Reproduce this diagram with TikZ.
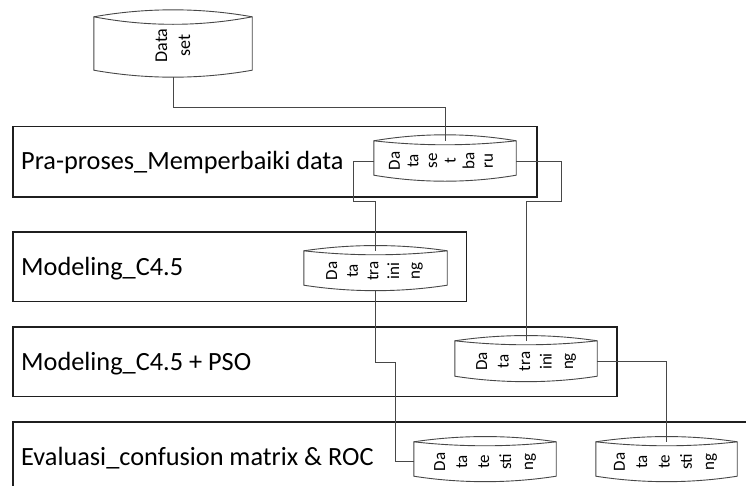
\documentclass[tikz,border=0pt]{standalone}
\usepackage{fontspec}
\setmainfont{Carlito}
\usetikzlibrary{calc}

% outline of a data store: bulged top with a lens, straight sides, bulged bottom
% #1 node name, #2 top bulge, #3 lens depth, #4 bottom bulge
\newcommand\storeoutline[4]{%
  \draw[drumline]
    (#1.north west)
      .. controls ($(#1.north west)!0.33!(#1.north east)+(0,-#2)$)
              and ($(#1.north west)!0.67!(#1.north east)+(0,-#2)$) .. (#1.north east)
    -- (#1.south east)
      .. controls ($(#1.south west)!0.67!(#1.south east)+(0,#4)$)
              and ($(#1.south west)!0.33!(#1.south east)+(0,#4)$) .. (#1.south west)
    -- cycle;
  \draw[drumline, fill=none]
    (#1.north west)
      .. controls ($(#1.north west)!0.33!(#1.north east)+(0,#3)$)
              and ($(#1.north west)!0.67!(#1.north east)+(0,#3)$) .. (#1.north east);
}

\begin{document}
\begin{tikzpicture}[x=1pt, y=-1pt,
  stagebox/.style={draw=black!88, line width=1.6pt, rectangle, inner sep=0pt,
                   anchor=north west},
  stagelabel/.style={anchor=base west, inner sep=0pt,
                     font=\fontsize{26.3}{31}\selectfont},
  drum/.style={rectangle, inner sep=0pt, draw=none},
  drumtext/.style={rotate=90, align=center, inner sep=0pt,
                   font=\fontsize{17}{#1}\selectfont},
  conn/.style={draw=black!72, line width=1pt},
  drumline/.style={draw=black!72, line width=0.9pt, fill=white}
]
\useasboundingbox (0,0) rectangle (746,485);
\clip (0,0) rectangle (746,485);

% stage boxes
\node[stagebox, minimum width=524, minimum height=70.5] (b1) at (12,125.5) {};
\node[stagebox, minimum width=453.5, minimum height=69.5] (b2) at (12,231) {};
\node[stagebox, minimum width=604, minimum height=69.5] (b3) at (12,326) {};
\node[stagebox, minimum width=760, minimum height=120] (b4) at (12,421) {};

\node[stagelabel] (b1t) at (21,169) {Pra-proses\_Memperbaiki data};
\node[stagelabel] (b2t) at (21,275) {Modeling\_C4.5};
\node[stagelabel] (b3t) at (21,370) {Modeling\_C4.5 + PSO};
\node[stagelabel] (b4t) at (21,465) {Evaluasi\_confusion matrix \& ROC};

% data stores
\node[drum, minimum width=158, minimum height=53] (ds) at (173,43.5) {};
\node[drum, minimum width=142, minimum height=34] (dsb) at (445,158) {};
\node[drum, minimum width=143, minimum height=34] (dt1) at (375.5,268) {};
\node[drum, minimum width=142, minimum height=35] (dt2) at (526,358.5) {};
\node[drum, minimum width=142, minimum height=34] (dte1) at (485,459) {};
\node[drum, minimum width=141, minimum height=34] (dte2) at (666.5,459) {};

\storeoutline{ds}{9.3}{10}{9.3}
\storeoutline{dsb}{8}{5.3}{8}
\storeoutline{dt1}{7}{5.3}{7.3}
\storeoutline{dt2}{7}{5.3}{7.3}
\storeoutline{dte1}{7}{5.3}{7.3}
\storeoutline{dte2}{7}{5.3}{7.3}

\node[drumtext=23, font=\fontsize{18}{23}\selectfont] (dst) at ($(ds)+(0,2)$) {Data\\set};
\node[drumtext=18.6] (dsbt) at ($(dsb)+(-4,3)$) {Da\\ta\\se\\t\\ba\\ru};
\node[drumtext=20.7] (dt1t) at ($(dt1)+(-1,3)$) {Da\\ta\\tra\\ini\\ng};
\node[drumtext=21.5] (dt2t) at ($(dt2)+(0,3)$) {Da\\ta\\tra\\ini\\ng};
\node[drumtext=22] (dte1t) at ($(dte1)+(0,3)$) {Da\\ta\\te\\sti\\ng};
\node[drumtext=22.3] (dte2t) at ($(dte2)+(-1,3)$) {Da\\ta\\te\\sti\\ng};

% connectors
\draw[conn] ($(ds.south)+(0,7)$) -- ++(0,30) -| (dsb.north);
\draw[conn] ($(dsb.west)+(0,3)$) -- ++(-20,0) -- ++(0,40) -| (dt1.north);
\draw[conn] ($(dsb.east)+(0,3)$) -- ++(45,0) -- ++(0,40) -| (dt2.north);
\draw[conn] ($(dt1.south)+(0,5.5)$) -- ++(0,71.5) -- ++(20,0)
            |- ($(dte1.west)+(0,2)$);
\draw[conn] ($(dt2.east)+(0,2.5)$) -| (dte2.north);
\end{tikzpicture}
\end{document}
